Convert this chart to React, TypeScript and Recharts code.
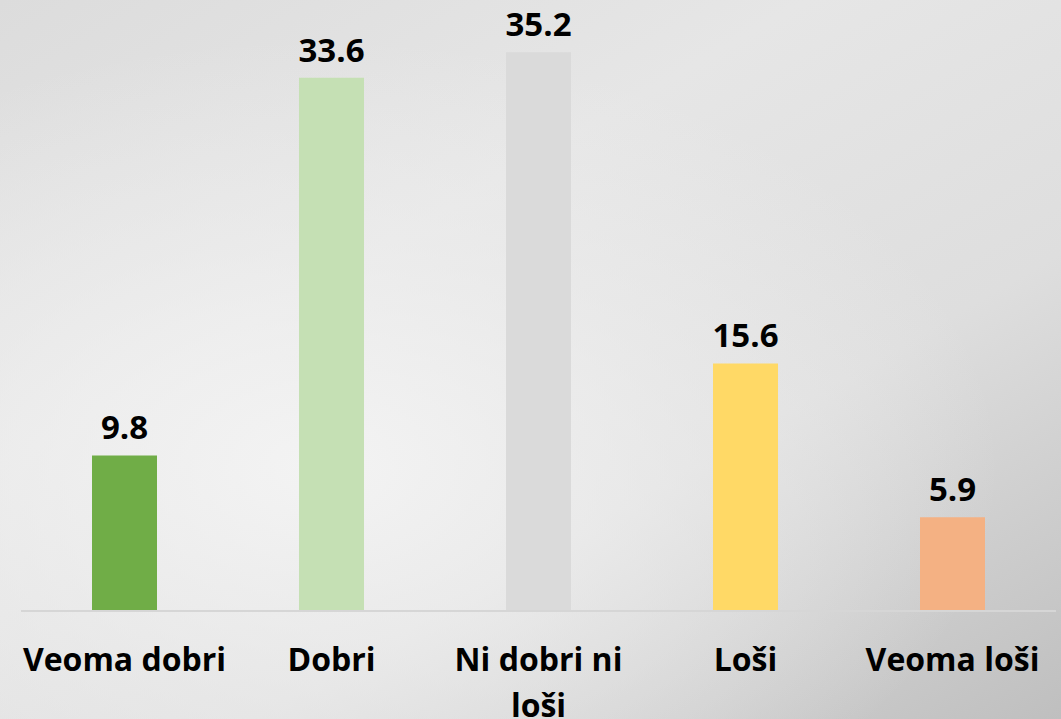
import { BarChart, Bar, XAxis, YAxis, Cell, LabelList, Text } from 'recharts';

// Ocjene po kategorijama
const categories = ['Veoma dobri', 'Dobri', 'Ni dobri ni loši', 'Loši', 'Veoma loši'];
const values = [9.8, 33.6, 35.2, 15.6, 5.9];
const barColors = ['#70ad47', '#c5e0b4', '#dadada', '#ffd966', '#f4b183'];

const data = categories.map((name, i) => ({ name, value: values[i] }));

const FONT = '"Open Sans", "Noto Sans", sans-serif';
const tickStyle = { fontSize: '32px', fontWeight: 700, fontFamily: FONT };

const CategoryTick = (props: any) => {
  const { x, y, payload } = props;
  return (
    <Text
      x={x}
      y={y + 37}
      width={215}
      textAnchor="middle"
      verticalAnchor="start"
      lineHeight={46}
      fill="#000"
      style={tickStyle}
    >
      {payload.value}
    </Text>
  );
};

const App = () => {
  return (
    <div
      style={{
        position: 'absolute',
        left: 0,
        top: 0,
        width: 1061,
        height: 719,
        overflow: 'hidden',
        background:
          'radial-gradient(ellipse at 30% 65%, rgba(245,245,245,0.9) 0%, rgba(240,240,240,0.5) 35%, rgba(240,240,240,0) 65%), linear-gradient(150deg, #dcdcdc 0%, #e6e6e6 35%, #dedede 65%, #bfbfbf 100%)',
      }}
    >
      <BarChart
        width={1061}
        height={719}
        data={data}
        margin={{ top: 0, right: 5, left: 21, bottom: 0 }}
      >
        <XAxis
          dataKey="name"
          height={108}
          interval={0}
          tickSize={0}
          tickMargin={0}
          tickLine={false}
          axisLine={{ stroke: '#d6d6d6', strokeWidth: 2 }}
          tick={(p: any) => <CategoryTick {...p} />}
        />
        <YAxis hide domain={[0, 38.5]} />
        <Bar dataKey="value" barSize={65} isAnimationActive={false}>
          {data.map((d, i) => (
            <Cell key={d.name} fill={barColors[i]} />
          ))}
          <LabelList
            dataKey="value"
            position="top"
            offset={16}
            fill="#000"
            fontSize={33}
            fontWeight={700}
            fontFamily={FONT}
          />
        </Bar>
      </BarChart>
    </div>
  );
};

export default App;
